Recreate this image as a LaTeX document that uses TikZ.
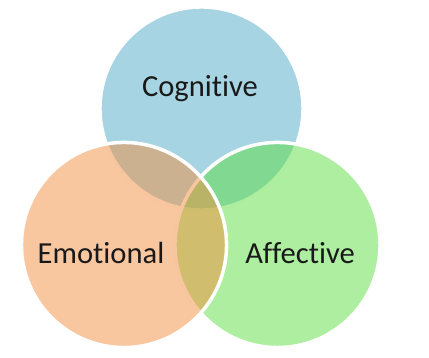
\documentclass[tikz,border=0pt]{standalone}
\usepackage{fontspec}
\setmainfont{Carlito}[Ligatures=NoCommon]
\definecolor{cogblue}{RGB}{77,169,197}
\definecolor{affgreen}{RGB}{93,221,65}
\definecolor{emoorange}{RGB}{242,142,63}
\begin{document}
\begin{tikzpicture}[x=0.01cm,y=-0.01cm,font=\fontsize{8.7}{10}\selectfont]
\useasboundingbox (0,0) rectangle (429,358);
\tikzset{venn/.style={circle,inner sep=0pt,minimum size=2.05cm,fill opacity=0.5,draw=white,draw opacity=1,line width=1pt}}
\node[venn,fill=cogblue,minimum size=2.03cm] (cog) at (201.5,108.5) {};
\node[venn,fill=affgreen] (aff) at (277.5,245) {};
\node[venn,fill=emoorange] (emo) at (124,245) {};
\node[text=black!90] (cogtext) at (200,89) {Cognitive};
\node[text=black!90] (emotext) at (101,253) {Emotional};
\node[text=black!90] (afftext) at (300,253) {Affective};
\end{tikzpicture}
\end{document}
